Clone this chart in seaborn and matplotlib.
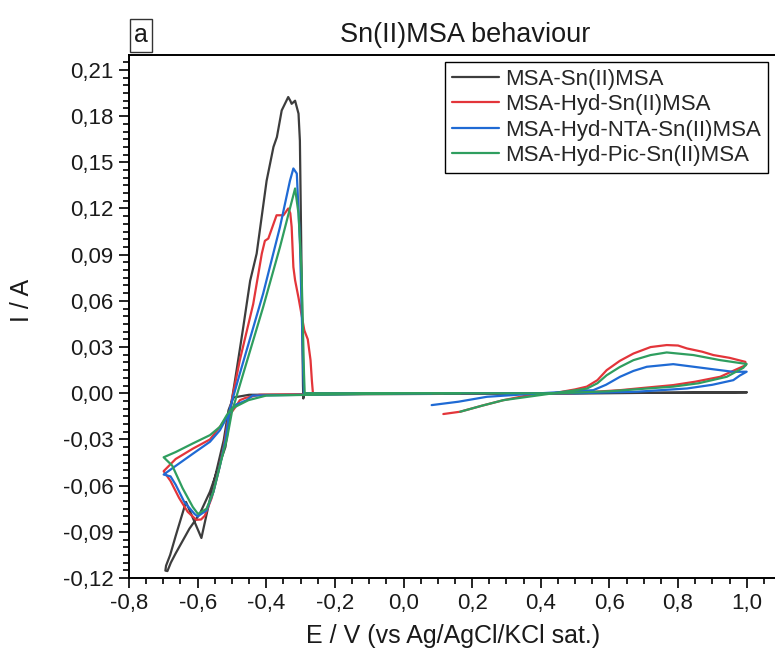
import numpy as np
import pandas as pd
import matplotlib
matplotlib.use("Agg")
import matplotlib.pyplot as plt
from matplotlib.ticker import FixedLocator, MultipleLocator, FuncFormatter
import seaborn as sns

# ---------------- data ----------------
SERIES = ["MSA-Sn(II)MSA", "MSA-Hyd-Sn(II)MSA", "MSA-Hyd-NTA-Sn(II)MSA", "MSA-Hyd-Pic-Sn(II)MSA"]
COLORS = ["#3d3d3d", "#e3353a", "#1f6ad4", "#2f9e5f"]

E_black = [0.10, 0.50, 1.00, 0.50, -0.45, -0.496, -0.51, -0.524, -0.557, -0.589, -0.61, -0.634,
           -0.664, -0.68, -0.692, -0.694, -0.688, -0.678, -0.664, -0.624, -0.594, -0.564, -0.519,
           -0.508, -0.500, -0.491, -0.476, -0.467, -0.447, -0.428, -0.399, -0.379, -0.369, -0.355,
           -0.336, -0.330, -0.326, -0.316, -0.306, -0.302, -0.297, -0.293, -0.292, -0.290, 0.10]
I_black = [0.0, 0.0, 0.0006, 0.0, -0.001, -0.0028, -0.011, -0.0305, -0.0616, -0.094, -0.083, -0.0706,
           -0.0927, -0.105, -0.112, -0.1152, -0.1155, -0.110, -0.104, -0.088, -0.0784, -0.0639, -0.0349,
           -0.018, -0.004, 0.0085, 0.030, 0.043, 0.073, 0.0907, 0.138, 0.160, 0.1664, 0.1837,
           0.1924, 0.190, 0.188, 0.190, 0.1816, 0.164, 0.0777, 0.005, -0.0034, 0.0, 0.0]

E_red = [0.116, 0.165, 0.23, 0.291, 0.37, 0.437, 0.50, 0.534, 0.565, 0.592, 0.630, 0.670, 0.72,
         0.767, 0.80, 0.826, 0.87, 0.903, 0.95, 0.996, 0.998, 0.96, 0.923, 0.85, 0.786, 0.70,
         0.631, 0.486, 0.0, -0.42, -0.46, -0.477, -0.49, -0.50, -0.506, -0.52, -0.535, -0.564,
         -0.614, -0.664, -0.699, -0.679, -0.654, -0.629, -0.604, -0.590, -0.579, -0.559, -0.539,
         -0.524, -0.512, -0.500, -0.477, -0.438, -0.413, -0.404, -0.394, -0.37, -0.35, -0.336,
         -0.33, -0.326, -0.321, -0.316, -0.306, -0.289, -0.279, -0.271, -0.267, -0.264, 0.116]
I_red = [-0.0135, -0.012, -0.008, -0.0045, -0.001, 0.0, 0.0025, 0.0043, 0.0085, 0.015, 0.021, 0.0258,
         0.030, 0.0313, 0.031, 0.0291, 0.027, 0.0248, 0.023, 0.0204, 0.0183, 0.0145, 0.0107, 0.0075,
         0.0053, 0.0035, 0.002, 0.0, 0.0, -0.001, -0.003, -0.0045, -0.009, -0.012, -0.013, -0.017,
         -0.0218, -0.030, -0.036, -0.0427, -0.0506, -0.057, -0.068, -0.077, -0.0822, -0.082, -0.0795,
         -0.068, -0.0506, -0.035, -0.018, -0.004, 0.0215, 0.058, 0.0907, 0.099, 0.1005, 0.1156,
         0.1156, 0.120, 0.117, 0.108, 0.082, 0.0734, 0.062, 0.0408, 0.035, 0.0215, 0.008, 0.0, 0.0]

E_blue = [0.082, 0.16, 0.243, 0.40, 0.553, 0.59, 0.631, 0.67, 0.709, 0.786, 0.884, 0.961, 1.0,
          0.98, 0.961, 0.90, 0.826, 0.68, 0.5, 0.0, -0.44, -0.457, -0.491, -0.506, -0.535, -0.564,
          -0.614, -0.664, -0.699, -0.679, -0.664, -0.639, -0.609, -0.600, -0.574, -0.554, -0.534,
          -0.519, -0.506, -0.477, -0.409, -0.36, -0.331, -0.321, -0.311, -0.302, -0.292, -0.290, 0.082]
I_blue = [-0.0077, -0.0055, -0.0023, 0.0, 0.002, 0.0055, 0.0107, 0.0145, 0.0172, 0.0189, 0.0161, 0.0139,
          0.0140, 0.0115, 0.0085, 0.0055, 0.0031, 0.001, 0.0, 0.0, -0.0015, -0.0045, -0.0077, -0.012,
          -0.024, -0.0315, -0.0393, -0.0472, -0.0528, -0.054, -0.0594, -0.0706, -0.0784, -0.080,
          -0.0761, -0.064, -0.046, -0.0304, -0.010, 0.0128, 0.0648, 0.108, 0.138, 0.146, 0.1427,
          0.099, 0.0128, 0.0, 0.0]

E_green = [0.165, 0.23, 0.291, 0.437, 0.534, 0.565, 0.592, 0.630, 0.670, 0.72, 0.767, 0.845, 0.923,
           1.0, 0.99, 0.942, 0.86, 0.786, 0.60, 0.45, 0.0, -0.40, -0.452, -0.50, -0.515, -0.535,
           -0.564, -0.614, -0.664, -0.699, -0.674, -0.644, -0.614, -0.599, -0.574, -0.554, -0.529,
           -0.514, -0.50, -0.467, -0.409, -0.36, -0.316, -0.306, -0.297, -0.290, -0.288, 0.165]
I_green = [-0.012, -0.008, -0.0045, 0.0, 0.003, 0.0065, 0.0117, 0.017, 0.0215, 0.0248, 0.0265, 0.0248,
           0.0215, 0.019, 0.0165, 0.0107, 0.0065, 0.0043, 0.0013, 0.0, 0.0, -0.0015, -0.0045, -0.0099,
           -0.0142, -0.0218, -0.0272, -0.0326, -0.0382, -0.0416, -0.047, -0.0616, -0.0739, -0.0784,
           -0.075, -0.064, -0.0416, -0.029, -0.012, 0.0128, 0.056, 0.095, 0.133, 0.1167, 0.0777,
           0.0128, 0.0, 0.0]

X_TICKS = [-0.8, -0.6, -0.4, -0.2, 0.0, 0.2, 0.4, 0.6, 0.8, 1.0]
Y_TICKS = [-0.12, -0.09, -0.06, -0.03, 0.00, 0.03, 0.06, 0.09, 0.12, 0.15, 0.18, 0.21]

TITLE = "Sn(II)MSA behaviour"
PANEL = "a"
XLABEL = "E / V (vs Ag/AgCl/KCl sat.)"
YLABEL = "I / A"

# ---------------- build table ----------------
frames = []
for name, E, I in zip(SERIES, [E_black, E_red, E_blue, E_green], [I_black, I_red, I_blue, I_green]):
    frames.append(pd.DataFrame({"E": E, "I": I, "series": name, "order": np.arange(len(E))}))
df = pd.concat(frames, ignore_index=True)

# ---------------- style ----------------
sns.set_style("ticks")
plt.rcParams["font.family"] = ["Liberation Sans", "DejaVu Sans"]
plt.rcParams["axes.linewidth"] = 1.4

fig = plt.figure(figsize=(7.75, 6.59), dpi=100)
W, H = 775.0, 659.0
ax = fig.add_axes([129 / W, (H - 578) / H, (781 - 129) / W, (578 - 55) / H])

sns.lineplot(data=df, x="E", y="I", hue="series", hue_order=SERIES, palette=COLORS,
             sort=False, estimator=None, units="series", lw=1.6, ax=ax, legend=True)

ax.set_xlim(-0.8, 1.1)
ax.set_ylim(-0.12, 0.2197)

ax.xaxis.set_major_locator(FixedLocator(X_TICKS))
ax.yaxis.set_major_locator(FixedLocator(Y_TICKS))
ax.xaxis.set_minor_locator(MultipleLocator(0.05))
ax.yaxis.set_minor_locator(MultipleLocator(0.005))


def fmt_x(v, pos):
    if abs(v) < 1e-9:
        v = 0.0
    return f"{v:.1f}".replace(".", ",")


def fmt_y(v, pos):
    if abs(v) < 1e-9:
        v = 0.0
    return f"{v:.2f}".replace(".", ",")


ax.xaxis.set_major_formatter(FuncFormatter(fmt_x))
ax.yaxis.set_major_formatter(FuncFormatter(fmt_y))

ax.tick_params(axis="both", which="major", direction="out", length=7, width=1.2,
               labelsize=16, color="black", labelcolor="#1a1a1a", pad=4)
ax.tick_params(axis="both", which="minor", direction="out", length=4, width=1.2, color="black")
ax.tick_params(top=False, right=False, which="both")

for s in ["left", "bottom", "top"]:
    ax.spines[s].set_visible(True)
    ax.spines[s].set_color("black")
ax.spines["right"].set_visible(False)

ax.set_xlabel("")
ax.set_ylabel("")
fig.text(453 / W, 1 - 636 / H, XLABEL, ha="center", va="center", fontsize=18, color="#1a1a1a")
fig.text(22 / W, 1 - 300 / H, YLABEL, ha="center", va="center", rotation=90, fontsize=18, color="#1a1a1a")
fig.text(465 / W, 1 - 35 / H, TITLE, ha="center", va="center", fontsize=19.5, color="#1a1a1a")
fig.text(141 / W, 1 - 35 / H, PANEL, ha="center", va="center", fontsize=18, color="#1a1a1a",
         bbox=dict(boxstyle="square,pad=0.18", fc="white", ec="#333333", lw=1.0))

handles, labels = ax.get_legend_handles_labels()
leg = ax.legend(handles, labels, loc="upper right", bbox_to_anchor=(768 / W, 1 - 62 / H),
                bbox_transform=fig.transFigure, borderaxespad=0, fontsize=16, frameon=True,
                fancybox=False, edgecolor="black", framealpha=1, handlelength=2.1,
                handletextpad=0.3, labelspacing=0.2, borderpad=0.3, title=None)
leg.get_frame().set_linewidth(1.0)
for line in leg.get_lines():
    line.set_linewidth(1.6)

fig.savefig("out.png", dpi=100)
